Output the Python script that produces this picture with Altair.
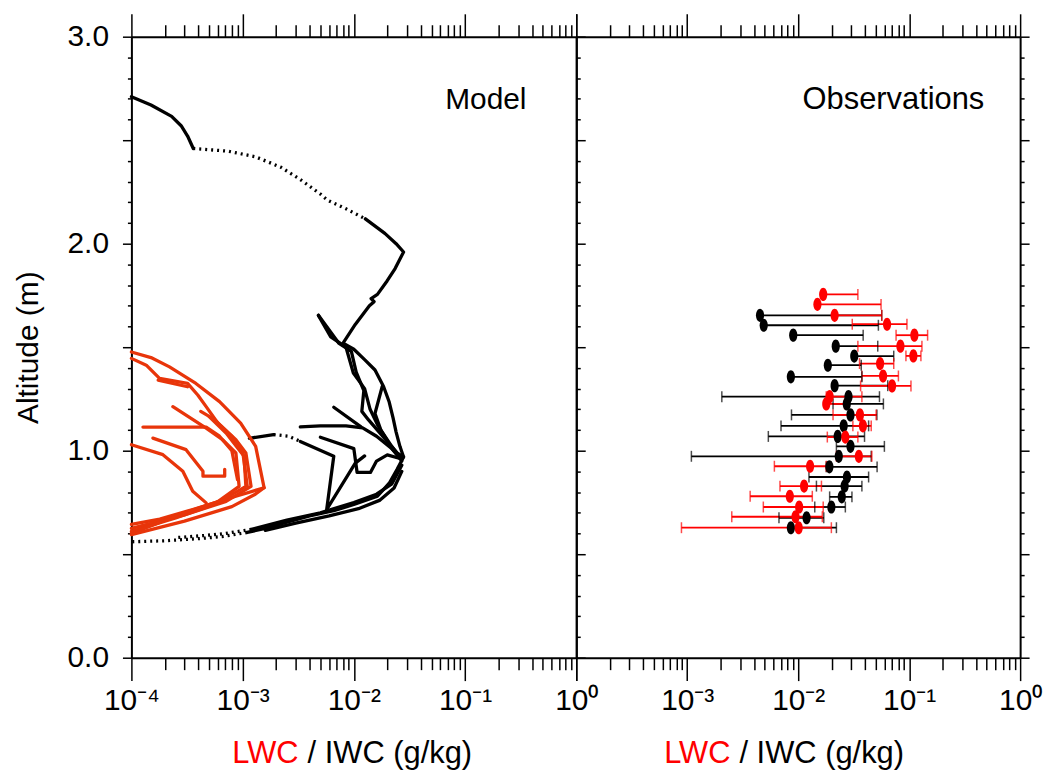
import altair as alt
import pandas as pd

# ---------------- data: model profiles (x in g/kg, y altitude m) ----------------
ICE_TOP_SOLID = [(1.0e-4, 2.71), (1.5e-4, 2.67), (2.3e-4, 2.615), (2.8e-4, 2.57), (3.2e-4, 2.52), (3.6e-4, 2.46)]
ICE_TOP_DOTTED = [(3.6e-4, 2.46), (4.3e-4, 2.457), (7.4e-4, 2.447), (1.3e-3, 2.42), (2.2e-3, 2.37),
                  (3.3e-3, 2.31), (5.0e-3, 2.24), (5.8e-3, 2.21), (8.4e-3, 2.17), (0.0127, 2.12)]
ICE_OUTER = [(0.0127, 2.12), (0.019, 2.05), (0.024, 2.0), (0.028, 1.96), (0.0235, 1.88), (0.0199, 1.82),
             (0.0163, 1.755), (0.0143, 1.735), (0.0152, 1.72), (0.0138, 1.70), (0.0103, 1.61), (0.0080, 1.52),
             (0.0100, 1.49), (0.0125, 1.44), (0.0155, 1.39), (0.0185, 1.31), (0.0208, 1.235), (0.0225, 1.16),
             (0.0240, 1.09), (0.026, 1.02), (0.028, 0.97), (0.0245, 0.91), (0.021, 0.846), (0.0163, 0.78),
             (0.010, 0.74), (0.0066, 0.71), (0.004, 0.685), (0.0025, 0.655), (0.0016, 0.625), (0.0011, 0.605)]
ICE_BOTTOM_DOTTED = [(0.0011, 0.605), (6.5e-4, 0.585), (4.0e-4, 0.575), (2.0e-4, 0.565), (1.0e-4, 0.56)]
ICE_BOTTOM_2 = [(0.0012, 0.62), (0.0025, 0.665), (0.005, 0.70), (0.010, 0.75), (0.016, 0.79), (0.022, 0.84),
                (0.027, 0.93)]
ICE_BOTTOM_3 = [(0.0016, 0.615), (0.003, 0.65), (0.006, 0.685), (0.011, 0.72), (0.017, 0.76), (0.023, 0.82),
                (0.027, 0.90)]
ICE_BOTTOM_2_DOTTED = [(0.0012, 0.62), (7.0e-4, 0.60), (4.5e-4, 0.59), (2.5e-4, 0.58)]
ICE_ZIG_A = [(0.0048, 1.654), (0.0073, 1.52), (0.0095, 1.48), (0.0105, 1.38), (0.0123, 1.29), (0.0118, 1.19),
             (0.0135, 1.15), (0.0184, 1.067), (0.0244, 0.99), (0.028, 0.97)]
ICE_ZIG_B = [(0.0048, 1.654), (0.0062, 1.55), (0.0085, 1.50), (0.0099, 1.375), (0.0125, 1.30), (0.0140, 1.20),
             (0.0165, 1.12), (0.022, 1.02), (0.027, 0.96)]
ICE_INNER = [(0.018, 1.31), (0.0155, 1.18), (0.0175, 1.10), (0.022, 1.01), (0.027, 0.95)]
ICE_107_SOLID = [(0.00115, 1.06), (0.0019, 1.078)]
ICE_107_DOTTED = [(0.0019, 1.078), (0.0026, 1.07), (0.0033, 1.045)]
ICE_V = [(0.0033, 1.045), (0.0066, 0.973), (0.0057, 0.716), (0.0103, 0.94), (0.0125, 0.975)]
ICE_112 = [(0.0033, 1.115), (0.0050, 1.12), (0.0085, 1.12), (0.012, 1.11), (0.016, 1.07), (0.022, 1.01),
           (0.027, 0.96)]
ICE_SHORT = [(0.0066, 1.21), (0.0116, 1.115)]
ICE_STEP = [(0.005, 1.065), (0.010, 1.01), (0.0107, 0.895), (0.0141, 0.895), (0.016, 0.95), (0.020, 0.98),
            (0.027, 0.96)]

LIQ_1 = [(1.0e-4, 1.477), (1.5e-4, 1.45), (2.2e-4, 1.405), (3.8e-4, 1.325), (6.2e-4, 1.237), (9.6e-4, 1.133),
         (1.31e-3, 1.021), (1.56e-3, 0.821), (8.7e-4, 0.78), (3.56e-4, 0.716), (1.8e-4, 0.67), (1.0e-4, 0.644)]
LIQ_2 = [(1.0e-4, 1.446), (1.36e-4, 1.413), (1.79e-4, 1.349), (3.2e-4, 1.325), (3.95e-4, 1.269), (4.7e-4, 1.213),
         (6.0e-4, 1.133), (8.7e-4, 1.053), (1.07e-3, 0.989), (1.19e-3, 0.828), (7.1e-4, 0.755), (3.0e-4, 0.69),
         (1.0e-4, 0.625)]
LIQ_3 = [(2.36e-4, 1.213), (4.7e-4, 1.109), (6.6e-4, 1.053), (8.7e-4, 0.989), (9.3e-4, 0.828), (5.5e-4, 0.74),
         (2.5e-4, 0.675), (1.0e-4, 0.61)]
LIQ_4 = [(1.27e-4, 1.114), (4.7e-4, 1.114), (6.2e-4, 1.07), (8.0e-4, 1.0), (9.0e-4, 0.86)]
LIQ_5 = [(1.0e-4, 1.029), (1.92e-4, 0.981), (2.9e-4, 0.901), (3.56e-4, 0.804), (4.7e-4, 0.748)]
LIQ_6 = [(1.56e-4, 1.061), (3.1e-4, 1.005), (4.4e-4, 0.901), (4.4e-4, 0.877), (6.9e-4, 0.877), (6.9e-4, 0.91)]
LIQ_7 = [(5.0e-4, 1.165), (7.1e-4, 1.085), (1.03e-3, 0.973), (1.07e-3, 0.828), (6.5e-4, 0.76), (3.0e-4, 0.70),
         (1.0e-4, 0.60)]
LIQ_8 = [(1.74e-4, 1.341), (3.2e-4, 1.309)]
LIQ_9 = [(1.0e-4, 0.595), (3.0e-4, 0.66), (8.0e-4, 0.73), (1.3e-3, 0.79), (1.56e-3, 0.821)]
LIQ_10 = [(4.2e-4, 1.19), (5.6e-4, 1.15), (8.0e-4, 1.07), (1.0e-3, 1.0), (1.1e-3, 0.83)]

MODEL_LINES = [
    ("ice", "solid", ICE_TOP_SOLID), ("ice", "dot", ICE_TOP_DOTTED), ("ice", "solid", ICE_OUTER),
    ("ice", "dot", ICE_BOTTOM_DOTTED), ("ice", "solid", ICE_BOTTOM_2), ("ice", "solid", ICE_BOTTOM_3),
    ("ice", "dot", ICE_BOTTOM_2_DOTTED),
    ("ice", "solid", ICE_ZIG_A), ("ice", "solid", ICE_ZIG_B), ("ice", "solid", ICE_INNER),
    ("ice", "solid", ICE_107_SOLID), ("ice", "dot", ICE_107_DOTTED), ("ice", "solid", ICE_V),
    ("ice", "solid", ICE_112), ("ice", "solid", ICE_SHORT), ("ice", "solid", ICE_STEP),
    ("liq", "solid", LIQ_1), ("liq", "solid", LIQ_2), ("liq", "solid", LIQ_3), ("liq", "solid", LIQ_4),
    ("liq", "solid", LIQ_5), ("liq", "solid", LIQ_6), ("liq", "solid", LIQ_7), ("liq", "solid", LIQ_8),
    ("liq", "solid", LIQ_9), ("liq", "solid", LIQ_10),
]

# ---------------- data: observations ----------------
OBS_LWC_Y = [1.755, 1.707, 1.654, 1.611, 1.558, 1.505, 1.458, 1.421, 1.361, 1.313, 1.261, 1.226, 1.173, 1.120,
             1.066, 0.973, 0.925, 0.829, 0.780, 0.728, 0.681, 0.628]
OBS_LWC_X = [0.0168, 0.0149, 0.0213, 0.0632, 0.1114, 0.0834, 0.1091, 0.0547, 0.0582, 0.0701, 0.0192, 0.0179,
             0.036, 0.0383, 0.0266, 0.0352, 0.0128, 0.0113, 0.0084, 0.0102, 0.00946, 0.0101]
OBS_LWC_LO = [0.0168, 0.0149, 0.0213, 0.0307, 0.0762, 0.0345, 0.0935, 0.0357, 0.0375, 0.0365, 0.0179, 0.0179,
              0.0206, 0.0311, 0.0183, 0.0221, 0.0061, 0.00685, 0.00369, 0.00485, 0.00252, 0.000887]
OBS_LWC_HI = [0.0345, 0.0558, 0.0566, 0.0955, 0.1466, 0.1303, 0.1276, 0.0726, 0.080, 0.1038, 0.0375, 0.0262,
              0.0504, 0.0455, 0.0345, 0.0461, 0.0179, 0.0162, 0.0134, 0.0168, 0.0165, 0.0199]

OBS_IWC_Y = [1.654, 1.606, 1.558, 1.505, 1.457, 1.413, 1.357, 1.314, 1.261, 1.226, 1.173, 1.120, 1.069, 1.021,
             0.973, 0.922, 0.873, 0.829, 0.777, 0.728, 0.676, 0.628]
OBS_IWC_X = [0.00453, 0.00489, 0.00902, 0.0218, 0.032, 0.0185, 0.00859, 0.0213, 0.0284, 0.0274, 0.0296, 0.0257,
             0.0227, 0.0296, 0.0232, 0.0191, 0.0275, 0.0262, 0.0247, 0.0199, 0.0119, 0.00859]
OBS_IWC_LO = [0.00453, 0.00489, 0.00902, 0.0218, 0.032, 0.0185, 0.00859, 0.0213, 0.00205, 0.0206, 0.0087, 0.0070,
              0.00538, 0.0221, 0.00109, 0.0179, 0.0125, 0.0146, 0.0192, 0.0141, 0.00671, 0.00859]
OBS_IWC_HI = [0.0566, 0.0528, 0.0385, 0.0521, 0.0726, 0.037, 0.0375, 0.0641, 0.054, 0.0586, 0.0512, 0.0431,
              0.0396, 0.0598, 0.0455, 0.0514, 0.0431, 0.0375, 0.0305, 0.0266, 0.017, 0.0221]

X_TICKS = [k * 10.0 ** d for d in range(-4, 0) for k in range(1, 10)] + [1.0]
Y_TICKS = [round(i * 0.1, 1) for i in range(31)]

# ---------------- build tables ----------------
rows = []
for sid, (phase, style, pts) in enumerate(MODEL_LINES):
    for i, (x, y) in enumerate(pts):
        rows.append(dict(sid=sid, phase=phase, style=style, i=i, x=x, y=y))
model_df = pd.DataFrame(rows)

obs_rows = []
for y, x, lo, hi in zip(OBS_IWC_Y, OBS_IWC_X, OBS_IWC_LO, OBS_IWC_HI):
    obs_rows.append(dict(phase="ice_obs", y=y, x=x, lo=lo, hi=hi))
for y, x, lo, hi in zip(OBS_LWC_Y, OBS_LWC_X, OBS_LWC_LO, OBS_LWC_HI):
    obs_rows.append(dict(phase="liq_obs", y=y, x=x, lo=lo, hi=hi))
obs_df = pd.DataFrame(obs_rows)

FONT = "Liberation Sans"
W_L, W_R, H = 447, 446, 624
RED_MODEL = "#e8350a"
RED_OBS = "#ff0000"

XS = alt.Scale(type="log", domain=[1e-4, 1], nice=False)
YS = alt.Scale(domain=[0, 3], nice=False, zero=False)
PHASE_COLOR = alt.Color("phase:N", legend=None,
                        scale=alt.Scale(domain=["ice", "liq", "ice_obs", "liq_obs"],
                                        range=["#000000", RED_MODEL, "#000000", RED_OBS]))

MAJ_X = "abs(log(datum.value)/LN10 - round(log(datum.value)/LN10)) < 0.01"
EXP = "round(log(datum.value)/LN10)"
MAJ_Y = "abs(datum.value*2 - round(datum.value*2)) < 0.01"


def x_label_expr(show_first):
    first = "'10⁻⁴'" if show_first else "''"
    return (f"{MAJ_X} ? ({EXP} == -4 ? {first} : {EXP} == -3 ? '10⁻³' : {EXP} == -2 ? '10⁻²' : "
            f"{EXP} == -1 ? '10⁻¹' : '10⁰') : ''")


COMMON = dict(grid=False, domainColor="black", domainWidth=2, tickColor="black", tickWidth=1.5)


def x_axis(orient, label_expr=None):
    kw = dict(COMMON)
    kw.update(orient=orient, values=X_TICKS, title=None,
              tickSize={"condition": {"test": MAJ_X, "value": 23}, "value": 12})
    if label_expr:
        kw.update(labels=True, labelExpr=label_expr, labelFont=FONT, labelFontSize=30, labelColor="black",
                  labelPadding=5, labelOverlap=False, labelFlush=False)
    else:
        kw.update(labels=False)
    return alt.Axis(**kw)


def y_axis(orient, labels=False, ticks=True, title=None):
    kw = dict(COMMON)
    kw.update(orient=orient, values=Y_TICKS, title=title, ticks=ticks,
              tickSize={"condition": {"test": MAJ_Y, "value": 9}, "value": 4})
    if labels:
        kw.update(labels=True,
                  labelExpr="abs(datum.value - round(datum.value)) < 0.01 ? format(datum.value, '.1f') : ''",
                  labelFont=FONT, labelFontSize=30, labelColor="black", labelPadding=14, labelOverlap=False,
                  labelFlush=False)
    else:
        kw.update(labels=False)
    if title:
        kw.update(titleFont=FONT, titleFontSize=30, titleFontWeight="normal", titleColor="black",
                  titlePadding=24)
    return alt.Axis(**kw)


frame_df = pd.DataFrame({"x": [1e-4], "y": [0.0]})


def frame(xa, ya):
    return alt.Chart(frame_df).mark_point(opacity=0).encode(
        x=alt.X("x:Q", scale=XS, axis=xa), y=alt.Y("y:Q", scale=YS, axis=ya))


def text(txt, x, y, align, color, size):
    return alt.Chart(pd.DataFrame({"t": [txt]})).mark_text(
        align=align, baseline="alphabetic", font=FONT, fontSize=size, color=color
    ).encode(text="t:N", x=alt.value(x), y=alt.value(y))


def model_lines(style, **mk):
    return alt.Chart(model_df[model_df["style"] == style]).mark_line(strokeWidth=3.3, strokeJoin="round", **mk).encode(
        x=alt.X("x:Q", scale=XS, axis=None),
        y=alt.Y("y:Q", scale=YS, axis=None),
        detail="sid:N", order="i:Q", color=PHASE_COLOR)


left = alt.layer(
    frame(x_axis("bottom", x_label_expr(True)), y_axis("left", labels=True, title="Altitude (m)")),
    frame(x_axis("top"), y_axis("right")),
    model_lines("dot", strokeDash=[2, 4], strokeCap="butt"),
    model_lines("solid", strokeCap="round"),
    text("Model", 397, 73, "right", "black", 30),
    text("LWC", 168, 730, "right", RED_OBS, 31),
    text("/ IWC (g/kg)", 177, 730, "left", "black", 31),
).properties(width=W_L, height=H).resolve_axis(x="independent", y="independent")

obs_base = alt.Chart(obs_df)
bars = obs_base.mark_rule(strokeWidth=1.8).encode(
    x=alt.X("lo:Q", scale=XS, axis=None), x2="hi:Q", y=alt.Y("y:Q", scale=YS, axis=None), color=PHASE_COLOR)
cap_lo = obs_base.mark_tick(orient="vertical", size=11, thickness=1.5).encode(
    x=alt.X("lo:Q", scale=XS, axis=None), y=alt.Y("y:Q", scale=YS, axis=None), color=PHASE_COLOR)
cap_hi = obs_base.mark_tick(orient="vertical", size=11, thickness=1.5).encode(
    x=alt.X("hi:Q", scale=XS, axis=None), y=alt.Y("y:Q", scale=YS, axis=None), color=PHASE_COLOR)
ELLIPSE = "M-0.62,0A0.62,1,0,1,1,0.62,0A0.62,1,0,1,1,-0.62,0Z"
points = obs_base.mark_point(shape=ELLIPSE, filled=True, size=175, opacity=1).encode(
    x=alt.X("x:Q", scale=XS, axis=None), y=alt.Y("y:Q", scale=YS, axis=None), color=PHASE_COLOR)

right = alt.layer(
    frame(x_axis("bottom", x_label_expr(False)), y_axis("left", ticks=False)),
    frame(x_axis("top"), y_axis("right")),
    bars, cap_lo, cap_hi, points,
    text("Observations", 410, 73, "right", "black", 31),
    text("LWC", 155, 730, "right", RED_OBS, 31),
    text("/ IWC (g/kg)", 164, 730, "left", "black", 31),
).properties(width=W_R, height=H).resolve_axis(x="independent", y="independent")

chart = alt.hconcat(left, right, spacing=0, bounds="flush").properties(
    padding={"left": 5, "top": 3, "right": 5, "bottom": 0}
).configure_view(strokeWidth=0)

chart.save("out.html", embed_options={"renderer": "svg", "actions": False})
